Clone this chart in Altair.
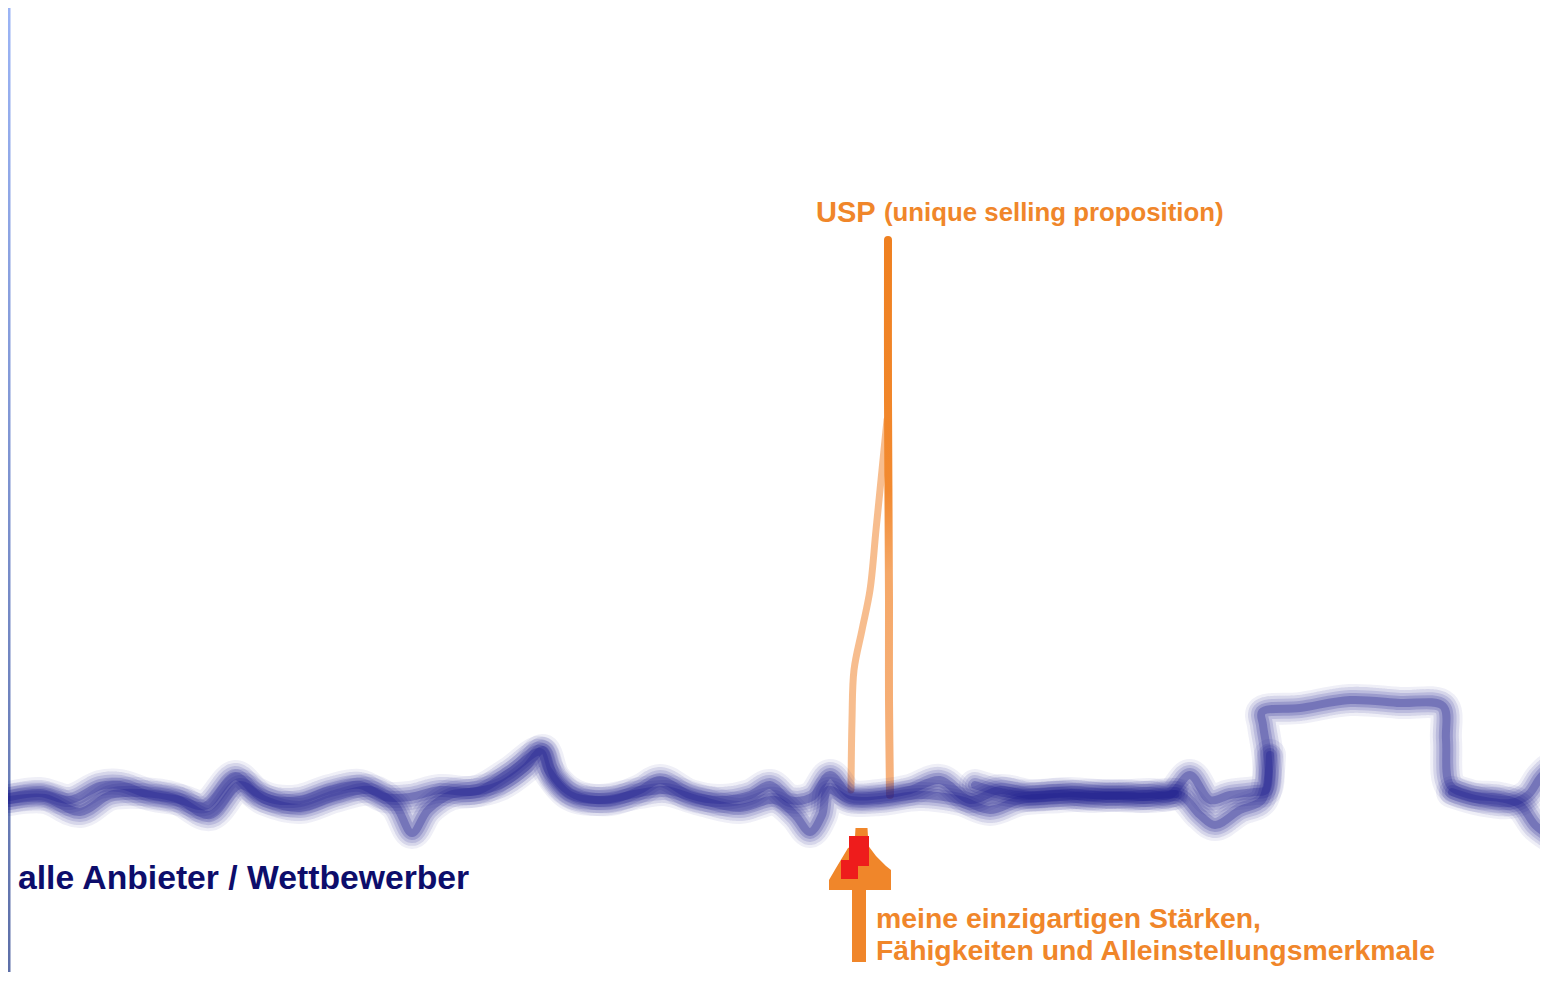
import altair as alt
import pandas as pd

# ---------------- blue "competitors" strands ----------------
main_x = [10, 40, 70, 100, 120, 150, 180, 205, 235, 255, 275, 300, 330, 360, 385, 410, 440, 470, 500,
          525, 543, 555, 575, 610, 640, 660, 690, 720, 750, 770, 790, 812, 830, 850, 880, 910, 940, 970,
          1000, 1030, 1070, 1110, 1150, 1170, 1190, 1210, 1230, 1255, 1266, 1268, 1263, 1262, 1300, 1350,
          1400, 1443, 1446, 1450, 1470, 1500, 1520, 1535, 1548]
main_y = [797, 793, 800, 786, 785, 795, 800, 806, 776, 792, 800, 800, 790, 785, 797, 797, 790, 792, 785,
          768, 750, 778, 795, 800, 790, 780, 795, 800, 795, 785, 800, 797, 775, 795, 795, 790, 780, 800,
          790, 795, 793, 796, 794, 795, 775, 800, 795, 792, 790, 760, 725, 712, 708, 700,
          703, 706, 740, 785, 795, 798, 805, 825, 835]

second_x = [10, 45, 80, 110, 140, 175, 210, 240, 265, 300, 335, 370, 395, 412, 428, 450, 480, 510, 540,
            548, 570, 600, 640, 665, 700, 740, 775, 795, 810, 822, 828, 850, 880, 920, 960, 990, 1020,
            1060, 1100, 1140, 1180, 1200, 1215, 1240, 1262, 1270]
second_y = [800, 798, 812, 795, 793, 798, 815, 785, 800, 808, 797, 790, 805, 833, 810, 795, 790, 772, 752,
            770, 795, 800, 793, 790, 800, 808, 800, 815, 832, 815, 790, 800, 800, 795, 800, 810, 800,
            797, 795, 797, 795, 815, 825, 810, 800, 755]

dense_x = [975, 1000, 1030, 1060, 1090, 1120, 1150, 1175]
dense_y = [785, 792, 796, 794, 797, 795, 797, 794]

tail_x = [1452, 1480, 1510, 1528, 1540, 1548]
tail_y = [792, 800, 803, 795, 778, 770]

# ---------------- orange USP strands ----------------
usp_right_x = [888, 888, 889, 889, 890]
usp_right_y = [240, 400, 600, 700, 795]
usp_left_x = [887, 882, 876, 870, 862, 854, 852, 851]
usp_left_y = [420, 470, 530, 590, 630, 670, 720, 790]

# ---------------- arrow ----------------
head_x = [829, 836, 848, 854.5, 855.5, 867.5, 868.5, 876, 886, 891]
head_top = [880, 868, 848, 845, 828, 828, 846, 856, 866, 870]
head_bottom = [890, 890, 890, 890, 890, 890, 890, 890, 890, 890]
shaft_x1, shaft_x2, shaft_y1, shaft_y2 = [852], [866], [888], [962]
red_x1 = [849, 841]
red_x2 = [869, 858]
red_y1 = [836, 860]
red_y2 = [866, 879]

# ---------------- texts ----------------
usp_label = ["USP"]
usp_sub = ["(unique selling proposition)"]
blue_label = ["alle Anbieter / Wettbewerber"]
orange_lines = ["meine einzigartigen Stärken,", "Fähigkeiten und Alleinstellungsmerkmale"]


def strand_df(parts):
    rows = []
    for name, xs, ys in parts:
        for i, (x, y) in enumerate(zip(xs, ys)):
            rows.append({"strand": name, "i": i, "x": x, "y": y})
    return pd.DataFrame(rows)


blue = strand_df([("main", main_x, main_y), ("second", second_x, second_y),
                  ("dense", dense_x, dense_y), ("tail", tail_x, tail_y)])
usp_r = strand_df([("r", usp_right_x, usp_right_y)])
usp_l = strand_df([("l", usp_left_x, usp_left_y)])

xs = alt.Scale(domain=[8, 1540], nice=False, zero=False)
ys = alt.Scale(domain=[8, 972], nice=False, zero=False, reverse=True)
X = alt.X("x:Q", scale=xs, axis=None)
Y = alt.Y("y:Q", scale=ys, axis=None)

NAVY = "#1e1e8e"
ORANGE = "#f0862a"

layers = []

# left border band
band = pd.DataFrame({"x": [8], "x2": [10.5], "y": [8], "y2": [972]})
layers.append(alt.Chart(band).mark_rect(color={
    "gradient": "linear", "x1": 0, "y1": 0, "x2": 0, "y2": 1,
    "stops": [{"offset": 0, "color": "#9bb4f5"}, {"offset": 1, "color": "#5d6fa8"}]}).encode(
    x=X, x2="x2:Q", y=Y, y2="y2:Q"))

# orange USP lines (under the blue)
layers.append(alt.Chart(usp_l).mark_line(color="#f5ac72", strokeWidth=7, opacity=0.8,
                                         interpolate="catmull-rom", strokeCap="round").encode(
    x=X, y=Y, order="i:Q"))
layers.append(alt.Chart(usp_r).mark_line(strokeWidth=8, strokeCap="round", interpolate="catmull-rom", color={
    "gradient": "linear", "x1": 0, "y1": 0, "x2": 0, "y2": 1,
    "stops": [{"offset": 0, "color": "#ef8020"}, {"offset": 0.45, "color": "#f28a30"},
              {"offset": 0.6, "color": "#f5a868"}, {"offset": 1, "color": "#f6b27e"}]}).encode(
    x=X, y=Y, order="i:Q"))

# fuzzy blue strands: several widths / opacities plus a speckled layer
for w, op, dash in [(32, 0.07, None), (26, 0.12, [1, 2]), (20, 0.14, None), (14, 0.2, None),
                    (8, 0.3, None)]:
    kw = dict(color=NAVY, strokeWidth=w, opacity=op, interpolate="catmull-rom",
              strokeCap="round", strokeJoin="round")
    if dash:
        kw["strokeDash"] = dash
    layers.append(alt.Chart(blue).mark_line(**kw).encode(
        x=X, y=Y, detail="strand:N", order="i:Q"))

# arrow
head = pd.DataFrame({"x": head_x, "y": head_top, "y2": head_bottom})
layers.append(alt.Chart(head).mark_area(color=ORANGE, opacity=1, interpolate="linear").encode(
    x=X, y=Y, y2="y2:Q"))
shaft = pd.DataFrame({"x": shaft_x1, "x2": shaft_x2, "y": shaft_y1, "y2": shaft_y2})
layers.append(alt.Chart(shaft).mark_rect(color=ORANGE).encode(x=X, x2="x2:Q", y=Y, y2="y2:Q"))
red = pd.DataFrame({"x": red_x1, "x2": red_x2, "y": red_y1, "y2": red_y2})
layers.append(alt.Chart(red).mark_rect(color="#ee1c1c").encode(x=X, x2="x2:Q", y=Y, y2="y2:Q"))

# texts
FONT = "Liberation Sans"
t_usp = pd.DataFrame({"x": [816], "y": [222], "t": usp_label})
layers.append(alt.Chart(t_usp).mark_text(font=FONT, fontWeight="bold", fontSize=29, color=ORANGE,
                                         align="left", baseline="alphabetic").encode(x=X, y=Y, text="t:N"))
t_sub = pd.DataFrame({"x": [884], "y": [221], "t": usp_sub})
layers.append(alt.Chart(t_sub).mark_text(font=FONT, fontWeight="bold", fontSize=25.8, color=ORANGE,
                                         align="left", baseline="alphabetic").encode(x=X, y=Y, text="t:N"))
t_blue = pd.DataFrame({"x": [18], "y": [889], "t": blue_label})
layers.append(alt.Chart(t_blue).mark_text(font=FONT, fontWeight="bold", fontSize=33.7, color="#0d0d6b",
                                          align="left", baseline="alphabetic").encode(x=X, y=Y, text="t:N"))
t_or = pd.DataFrame({"x": [876, 876], "y": [928, 960], "t": orange_lines})
layers.append(alt.Chart(t_or).mark_text(font=FONT, fontWeight="bold", fontSize=28.4, color=ORANGE,
                                        align="left", baseline="alphabetic").encode(x=X, y=Y, text="t:N"))

chart = alt.layer(*layers).properties(
    width=1532, height=964,
    autosize=alt.AutoSizeParams(type="none"),
    padding=0, background="white",
).configure_view(stroke=None)

chart.save("out.html", embed_options={"renderer": "svg", "actions": False})
